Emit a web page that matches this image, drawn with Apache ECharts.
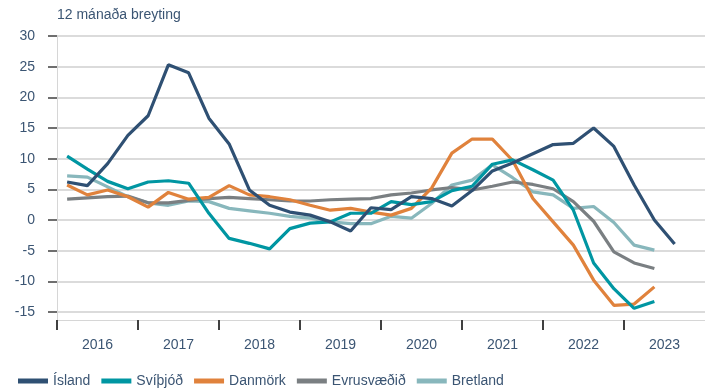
<!DOCTYPE html>
<html>
<head>
<meta charset="utf-8">
<script src="https://cdn.jsdelivr.net/npm/echarts@6/dist/echarts.min.js"></script>
<style>
  html, body { margin: 0; padding: 0; background: #fff; }
  #chart { width: 705px; height: 388px; }
</style>
</head>
<body>
<div id="chart"></div>
<script>
// Quarterly 12-month change, 2016 Q1 onwards
const years = ['2016', '2017', '2018', '2019', '2020', '2021', '2022', '2023'];
const seriesNames = ['Ísland', 'Svíþjóð', 'Danmörk', 'Evrusvæðið', 'Bretland'];

const island = [6.2, 5.6, 9.2, 13.8, 17.0, 25.3, 24.0, 16.6, 12.4, 4.9, 2.4, 1.3, 0.8, -0.3, -1.8,
  2.0, 1.7, 3.8, 3.5, 2.3, 4.8, 8.0, 9.3, 10.8, 12.3, 12.5, 15.0, 12.0, 5.7, 0.0, -3.9];
const svithjod = [10.4, 8.3, 6.3, 5.1, 6.2, 6.4, 6.0, 1.1, -3.0, -3.8, -4.7, -1.4, -0.5, -0.3, 1.1,
  1.1, 3.0, 2.5, 3.0, 4.8, 5.5, 9.1, 9.8, 8.2, 6.5, 1.6, -7.0, -11.2, -14.4, -13.3];
const danmork = [5.7, 4.1, 4.9, 3.8, 2.1, 4.5, 3.4, 3.7, 5.6, 4.1, 3.8, 3.3, 2.4, 1.6, 1.9,
  1.3, 0.8, 1.9, 5.2, 10.9, 13.2, 13.2, 9.7, 3.5, -0.3, -4.1, -9.8, -13.9, -13.7, -10.9];
const evrusvaedid = [3.4, 3.6, 3.8, 3.9, 2.8, 2.8, 3.2, 3.5, 3.7, 3.5, 3.3, 3.1, 3.1, 3.3, 3.4,
  3.5, 4.1, 4.4, 4.9, 5.3, 4.9, 5.5, 6.2, 5.8, 5.1, 3.0, -0.2, -5.2, -7.0, -7.9];
const bretland = [7.2, 7.0, 5.4, 3.8, 2.8, 2.4, 3.1, 3.0, 1.9, 1.5, 1.1, 0.6, 0.3, -0.3, -0.6,
  -0.6, 0.6, 0.3, 2.7, 5.7, 6.5, 9.0, 6.9, 4.6, 4.1, 1.9, 2.2, -0.4, -4.1, -4.9];

const colors = ['#2f5073', '#0096a2', '#e0823c', '#7a7f82', '#88b7bc'];
const textColor = '#3b5573';
const font = 'Liberation Sans, Arial, sans-serif';

// each quarter sits in the middle of its slot on a quarter-indexed value axis
const toPoints = arr => arr.map((v, i) => [i + 0.5, v]);
const allData = [island, svithjod, danmork, evrusvaedid, bretland];

const yearTicks = years.map((y, i) => i * 4);
const yearLabelPos = years.map((y, i) => i * 4 + 2);

const chart = echarts.init(document.getElementById('chart'), null, { renderer: 'canvas' });
chart.setOption({
  animation: false,
  backgroundColor: '#ffffff',
  title: {
    text: '12 mánaða breyting',
    left: 52, top: 3,
    textStyle: { color: textColor, fontSize: 14, fontWeight: 'normal', fontFamily: font }
  },
  legend: {
    left: 13, bottom: -5,
    itemWidth: 30, itemHeight: 5, itemGap: 11,
    icon: 'rect',
    textStyle: { color: textColor, fontSize: 14, fontFamily: font },
    data: seriesNames
  },
  grid: [
    // main plot area, running down to the x-axis line
    { left: 57, right: -8, top: 36, bottom: 68 },
    // same width, ending at the -15 line: carries the y tick marks and labels
    { left: 57, right: -8, top: 36, bottom: 76 }
  ],
  xAxis: [{
    type: 'value',
    gridIndex: 0,
    min: 0, max: 32,
    axisLine: { show: true, onZero: false, lineStyle: { color: '#d6d6d6', width: 1 } },
    axisTick: { show: true, length: 10, customValues: yearTicks, lineStyle: { color: '#404040', width: 2 } },
    axisLabel: {
      customValues: yearLabelPos,
      margin: 18,
      color: textColor, fontSize: 14, fontFamily: font,
      formatter: v => years[Math.floor(v / 4)] || ''
    },
    splitLine: { show: false }
  }, {
    type: 'value',
    gridIndex: 1,
    min: 0, max: 32,
    show: false
  }],
  yAxis: [{
    type: 'value',
    gridIndex: 0,
    min: -16.3, max: 30,
    axisLine: { show: true, onZero: false, lineStyle: { color: '#d6d6d6', width: 1 } },
    axisTick: { show: false },
    axisLabel: { show: false },
    splitLine: { show: false }
  }, {
    type: 'value',
    gridIndex: 1,
    min: -15, max: 30, interval: 5,
    axisLine: { show: false, onZero: false },
    axisTick: { show: true, inside: false, length: 9, lineStyle: { color: '#404040', width: 1.5 } },
    axisLabel: { margin: 22, color: textColor, fontSize: 14, fontFamily: font },
    splitLine: { show: true, lineStyle: { color: '#cfcfcf', width: 1.5 } }
  }],
  series: seriesNames.map((name, k) => ({
    name: name,
    type: 'line',
    xAxisIndex: 0,
    yAxisIndex: 0,
    data: toPoints(allData[k]),
    showSymbol: false,
    symbol: 'none',
    color: colors[k],
    lineStyle: { color: colors[k], width: 3.2 },
    z: 10 - k
  }))
});
</script>
</body>
</html>
